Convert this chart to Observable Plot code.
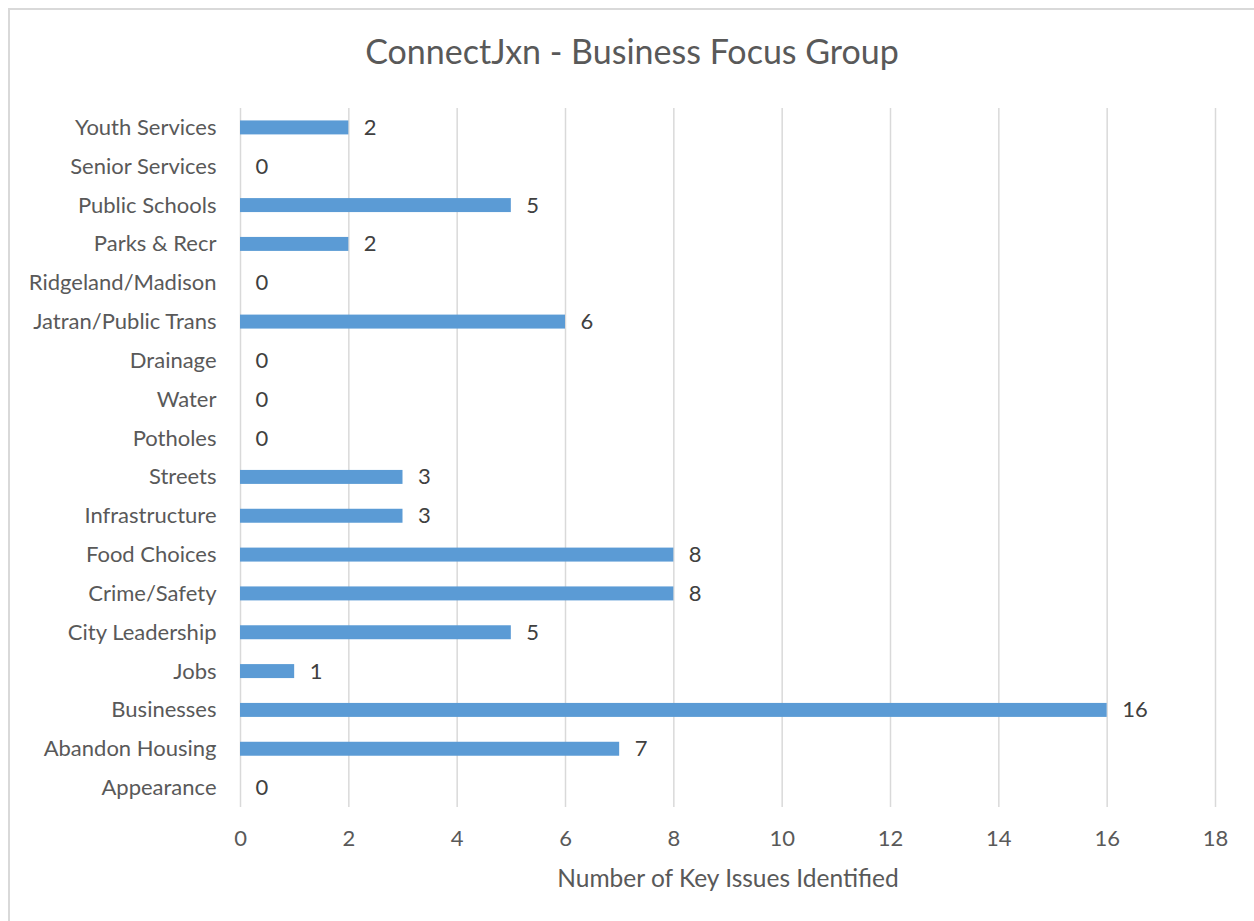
<!DOCTYPE html>
<html>
<head>
<meta charset="utf-8">
<script src="https://cdn.jsdelivr.net/npm/d3@7"></script>
<script src="https://cdn.jsdelivr.net/npm/@observablehq/plot@0.6"></script>
<style>
  html, body { margin: 0; padding: 0; background: #fff; overflow: hidden; }
  #frame { position: absolute; left: 8px; top: 8px; width: 1400px; height: 1100px;
           border-top: 2px solid #d9d9d9; border-left: 2px solid #d9d9d9; box-sizing: border-box; }
  #title { position: absolute; left: 0; width: 1264px; top: 28px; text-align: center;
           font-family: Lato, sans-serif; font-size: 34px; color: #595959; line-height: 46px; }
  #chart { position: absolute; left: 0; top: 90px; }
</style>
</head>
<body>
<div id="frame"></div>
<div id="title">ConnectJxn - Business Focus Group</div>
<div id="chart"></div>
<script>
const categories = [
  "Youth Services", "Senior Services", "Public Schools", "Parks & Recr",
  "Ridgeland/Madison", "Jatran/Public Trans", "Drainage", "Water", "Potholes",
  "Streets", "Infrastructure", "Food Choices", "Crime/Safety", "City Leadership",
  "Jobs", "Businesses", "Abandon Housing", "Appearance"
];
const counts = [2, 0, 5, 2, 0, 6, 0, 0, 0, 3, 3, 8, 8, 5, 1, 16, 7, 0];
const xTicks = [0, 2, 4, 6, 8, 10, 12, 14, 16, 18];
const xLabel = "Number of Key Issues Identified";

const data = categories.map((c, i) => ({category: c, count: counts[i]}));

const chart = Plot.plot({
  width: 1254,
  height: 831,
  marginLeft: 240,
  marginRight: 39,
  marginTop: 18,
  marginBottom: 114,
  style: {fontFamily: "Lato, sans-serif", fontSize: "22px", color: "#595959", background: "transparent"},
  x: {domain: [0, 18], ticks: xTicks},
  y: {domain: categories, paddingInner: 0.64, paddingOuter: 0.32, round: false},
  marks: [
    Plot.gridX(xTicks, {stroke: "#d9d9d9", strokeOpacity: 1, strokeWidth: 1.5}),
    Plot.barX(data, {x: "count", y: "category", fill: "#5b9bd5"}),
    Plot.text(data, {x: "count", y: "category", text: d => String(d.count),
      textAnchor: "start", dx: 15, fill: "#404040", fontSize: 22}),
    Plot.axisY({tickSize: 0, tickPadding: 24, label: null, fontSize: 22}),
    Plot.axisX(xTicks, {tickSize: 0, tickPadding: 23, fontSize: 22, label: null}),
    Plot.axisX({tickSize: 0, ticks: [], fontSize: 24.5,
      label: xLabel, labelAnchor: "center", labelArrow: "none", labelOffset: 79})
  ]
});
document.getElementById("chart").appendChild(chart);
</script>
</body>
</html>
